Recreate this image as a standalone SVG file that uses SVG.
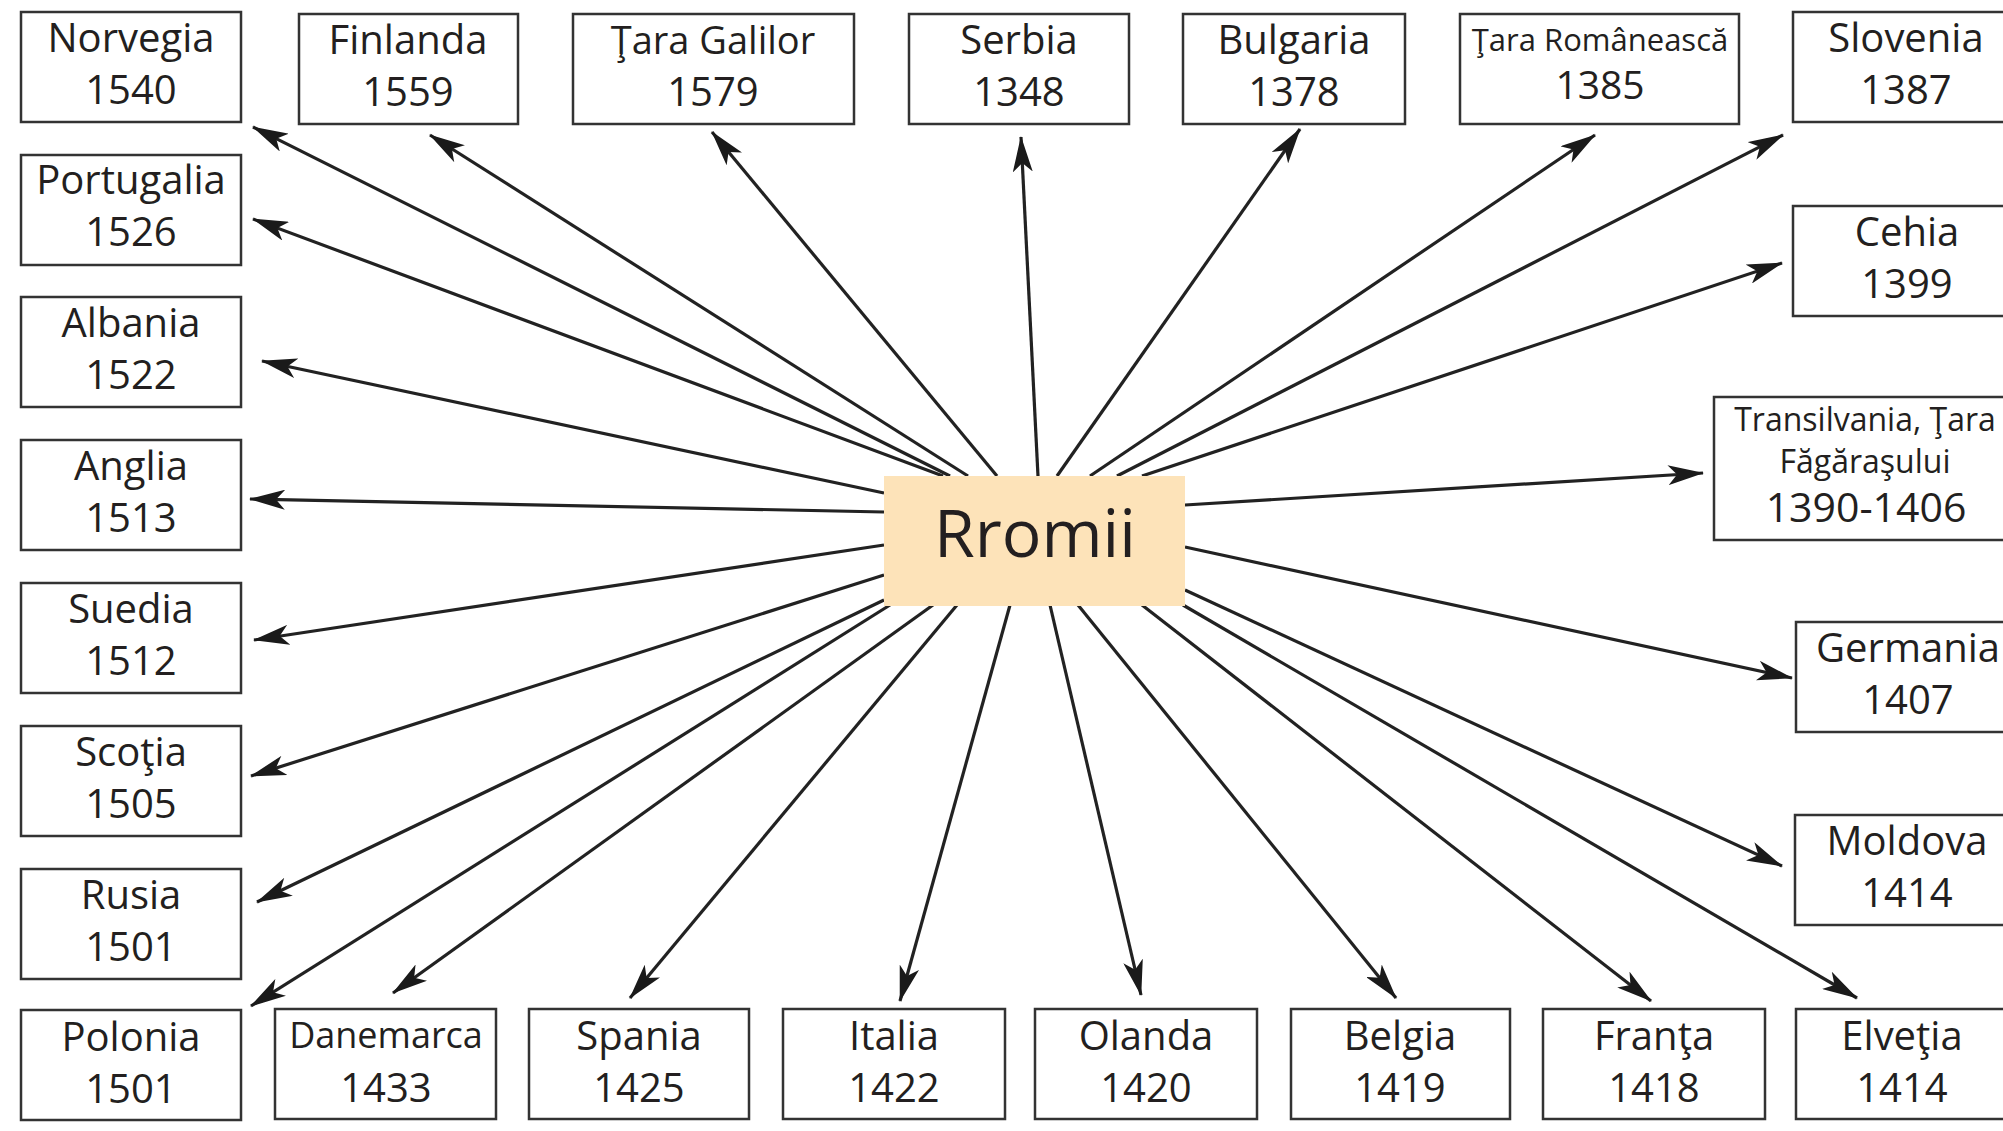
<svg xmlns="http://www.w3.org/2000/svg" width="2003" height="1131" viewBox="0 0 2003 1131">
<style>
.box{fill:#fff;stroke:#333;stroke-width:2.5}
.t{font-family:"Open Sans","Noto Sans","DejaVu Sans",sans-serif;font-size:40px;fill:#231f20;text-anchor:middle}
.c{stroke:#222;stroke-width:3.2;fill:none;marker-end:url(#ah)}
</style>
<defs>
<marker id="ah" markerUnits="userSpaceOnUse" markerWidth="36" markerHeight="20" viewBox="0 0 36 20" refX="35" refY="10" orient="auto">
<path d="M0,0 L36,10 L0,20 L9,10 Z" fill="#1a1a1a"/>
</marker>
</defs>
<rect width="2003" height="1131" fill="#fff"/>
<g id="connectors">
<line class="c" x1="950" y1="476" x2="253" y2="127"/>
<line class="c" x1="943" y1="476" x2="253" y2="219"/>
<line class="c" x1="968" y1="476" x2="430" y2="135"/>
<line class="c" x1="997" y1="476" x2="712" y2="132"/>
<line class="c" x1="1038" y1="476" x2="1021" y2="137"/>
<line class="c" x1="1057" y1="476" x2="1300" y2="129"/>
<line class="c" x1="1090" y1="476" x2="1595" y2="135"/>
<line class="c" x1="1117" y1="476" x2="1783" y2="135"/>
<line class="c" x1="1142" y1="476" x2="1782" y2="263"/>
<line class="c" x1="1185" y1="505" x2="1703" y2="473"/>
<line class="c" x1="1185" y1="547" x2="1792" y2="678"/>
<line class="c" x1="1185" y1="590" x2="1782" y2="866"/>
<line class="c" x1="1183" y1="605" x2="1857" y2="998"/>
<line class="c" x1="1142" y1="605" x2="1651" y2="1001"/>
<line class="c" x1="1078" y1="605" x2="1396" y2="998"/>
<line class="c" x1="1050" y1="605" x2="1141" y2="995"/>
<line class="c" x1="1010" y1="605" x2="900" y2="1001"/>
<line class="c" x1="957" y1="605" x2="630" y2="998"/>
<line class="c" x1="933" y1="605" x2="393" y2="993"/>
<line class="c" x1="890" y1="605" x2="251" y2="1006"/>
<line class="c" x1="884" y1="600" x2="257" y2="902"/>
<line class="c" x1="884" y1="575" x2="251" y2="776"/>
<line class="c" x1="884" y1="545" x2="254" y2="640"/>
<line class="c" x1="884" y1="512" x2="250" y2="499"/>
<line class="c" x1="884" y1="493" x2="262" y2="361"/>
</g>
<g id="rromii">
<rect x="884" y="476" width="301" height="130" fill="#fde3b9"/>
<text class="t" x="1035" y="557" style="font-size:66px">Rromii</text>
</g>
<g id="norvegia"><rect class="box" x="21" y="12" width="220" height="110"/><text class="t" x="131" y="52">Norvegia</text><text class="t" x="131" y="104">1540</text></g>
<g id="finlanda"><rect class="box" x="299" y="14" width="219" height="110"/><text class="t" x="408" y="54">Finlanda</text><text class="t" x="408" y="106">1559</text></g>
<g id="tara-galilor"><rect class="box" x="573" y="14" width="281" height="110"/><text class="t" x="713" y="54" style="font-size:38px">Ţara Galilor</text><text class="t" x="713" y="106">1579</text></g>
<g id="serbia"><rect class="box" x="909" y="14" width="220" height="110"/><text class="t" x="1019" y="54">Serbia</text><text class="t" x="1019" y="106">1348</text></g>
<g id="bulgaria"><rect class="box" x="1183" y="14" width="222" height="110"/><text class="t" x="1294" y="54">Bulgaria</text><text class="t" x="1294" y="106">1378</text></g>
<g id="tara-romaneasca"><rect class="box" x="1460" y="14" width="279" height="110"/><text class="t" x="1600" y="51" style="font-size:31px">Ţara Românească</text><text class="t" x="1600" y="99" style="font-size:39px">1385</text></g>
<g id="slovenia"><rect class="box" x="1793" y="12" width="230" height="110"/><text class="t" x="1906" y="52">Slovenia</text><text class="t" x="1906" y="104">1387</text></g>
<g id="cehia"><rect class="box" x="1793" y="206" width="230" height="110"/><text class="t" x="1907" y="246">Cehia</text><text class="t" x="1907" y="298">1399</text></g>
<g id="transilvania"><rect class="box" x="1714" y="397" width="310" height="143"/><text class="t" x="1865" y="431" style="font-size:32px">Transilvania, Ţara</text><text class="t" x="1865" y="473" style="font-size:32px">Făgăraşului</text><text class="t" x="1866" y="522" style="font-size:41px">1390-1406</text></g>
<g id="germania"><rect class="box" x="1796" y="622" width="230" height="110"/><text class="t" x="1908" y="662">Germania</text><text class="t" x="1908" y="714">1407</text></g>
<g id="moldova"><rect class="box" x="1795" y="815" width="230" height="110"/><text class="t" x="1907" y="855">Moldova</text><text class="t" x="1907" y="907">1414</text></g>
<g id="elvetia"><rect class="box" x="1796" y="1009" width="230" height="110"/><text class="t" x="1902" y="1050">Elveţia</text><text class="t" x="1902" y="1102">1414</text></g>
<g id="franta"><rect class="box" x="1543" y="1009" width="222" height="110"/><text class="t" x="1654" y="1050">Franţa</text><text class="t" x="1654" y="1102">1418</text></g>
<g id="belgia"><rect class="box" x="1291" y="1009" width="219" height="110"/><text class="t" x="1400" y="1050">Belgia</text><text class="t" x="1400" y="1102">1419</text></g>
<g id="olanda"><rect class="box" x="1035" y="1009" width="222" height="110"/><text class="t" x="1146" y="1050">Olanda</text><text class="t" x="1146" y="1102">1420</text></g>
<g id="italia"><rect class="box" x="783" y="1009" width="222" height="110"/><text class="t" x="894" y="1050">Italia</text><text class="t" x="894" y="1102">1422</text></g>
<g id="spania"><rect class="box" x="529" y="1009" width="220" height="110"/><text class="t" x="639" y="1050">Spania</text><text class="t" x="639" y="1102">1425</text></g>
<g id="danemarca"><rect class="box" x="275" y="1009" width="221" height="110"/><text class="t" x="386" y="1048" style="font-size:36px">Danemarca</text><text class="t" x="386" y="1102">1433</text></g>
<g id="polonia"><rect class="box" x="21" y="1010" width="220" height="110"/><text class="t" x="131" y="1051">Polonia</text><text class="t" x="131" y="1103">1501</text></g>
<g id="rusia"><rect class="box" x="21" y="869" width="220" height="110"/><text class="t" x="131" y="909">Rusia</text><text class="t" x="131" y="961">1501</text></g>
<g id="scotia"><rect class="box" x="21" y="726" width="220" height="110"/><text class="t" x="131" y="766">Scoţia</text><text class="t" x="131" y="818">1505</text></g>
<g id="suedia"><rect class="box" x="21" y="583" width="220" height="110"/><text class="t" x="131" y="623">Suedia</text><text class="t" x="131" y="675">1512</text></g>
<g id="anglia"><rect class="box" x="21" y="440" width="220" height="110"/><text class="t" x="131" y="480">Anglia</text><text class="t" x="131" y="532">1513</text></g>
<g id="albania"><rect class="box" x="21" y="297" width="220" height="110"/><text class="t" x="131" y="337">Albania</text><text class="t" x="131" y="389">1522</text></g>
<g id="portugalia"><rect class="box" x="21" y="155" width="220" height="110"/><text class="t" x="131" y="194">Portugalia</text><text class="t" x="131" y="246">1526</text></g>
</svg>
